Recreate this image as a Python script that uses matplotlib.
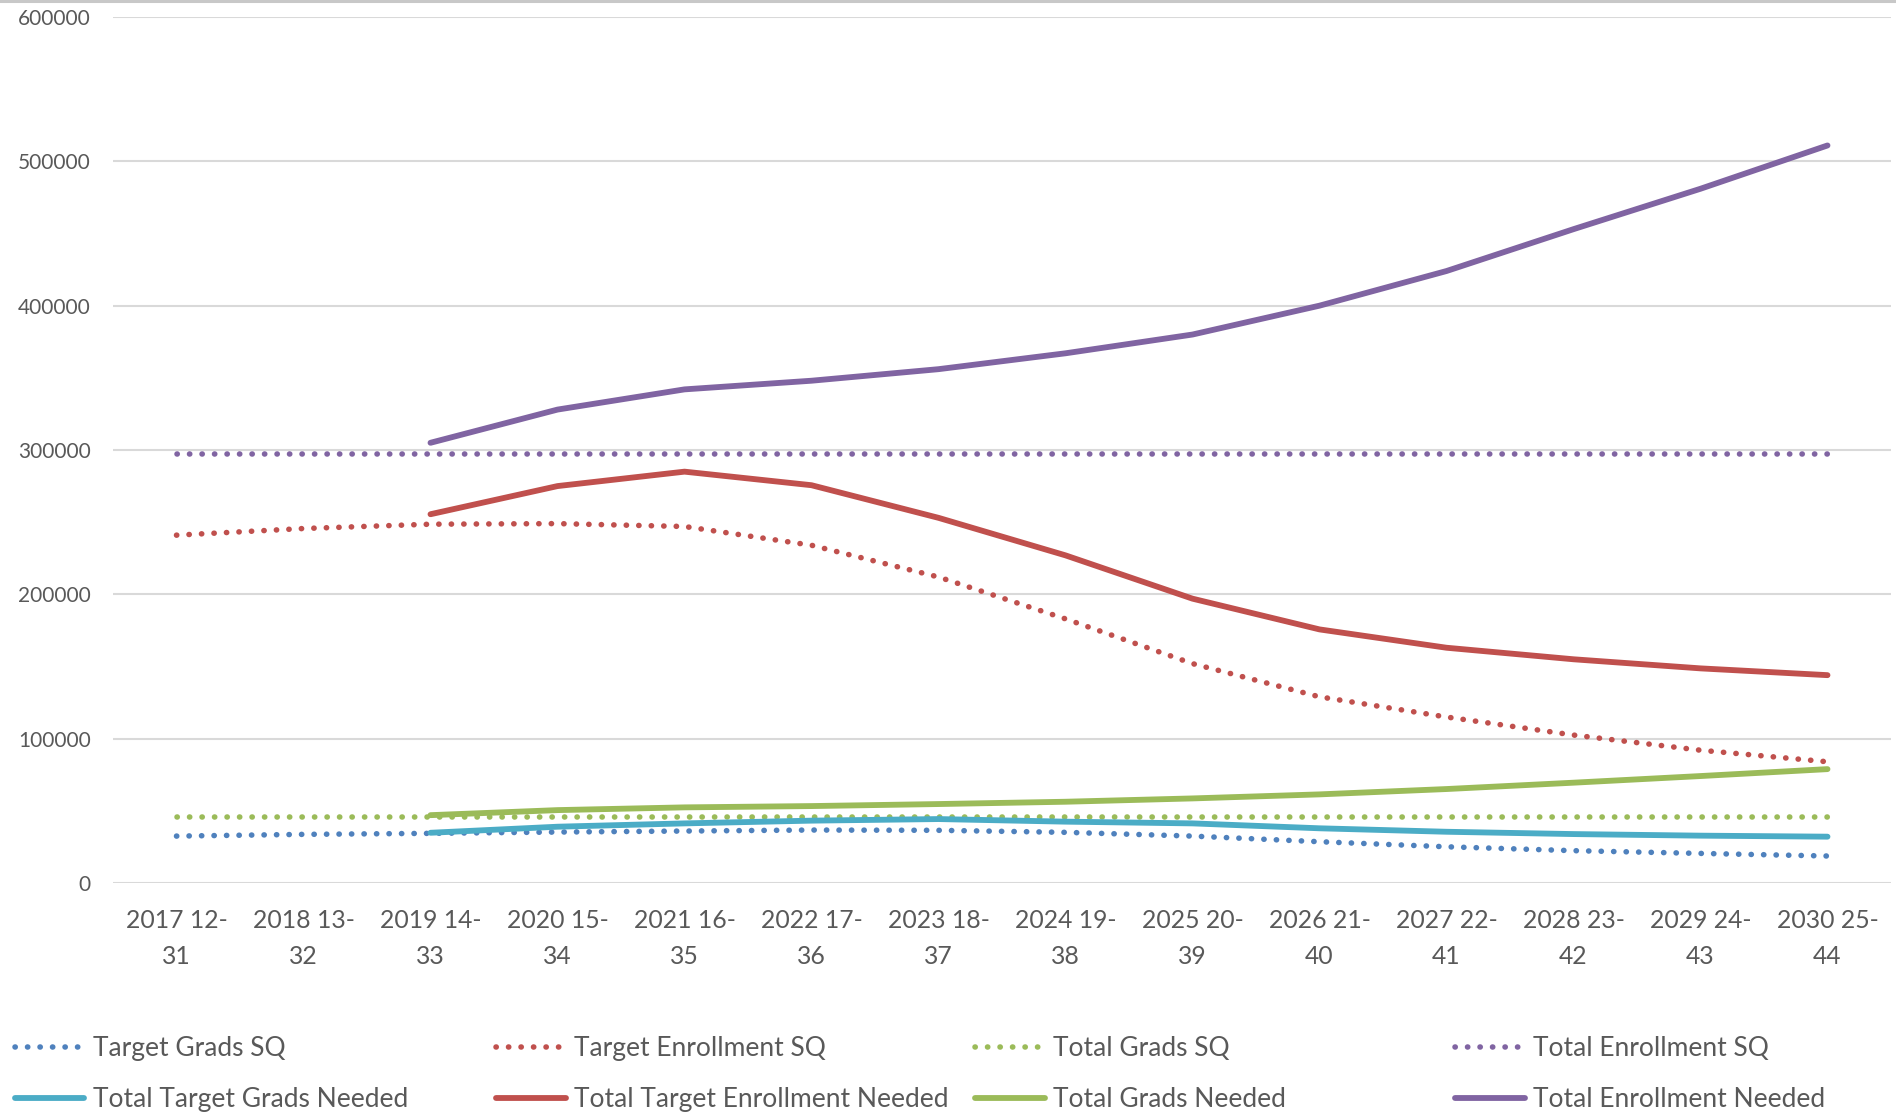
import numpy as np
import matplotlib
matplotlib.use("Agg")
import matplotlib.pyplot as plt
from matplotlib.lines import Line2D

plt.rcParams['font.family'] = ['Lato', 'DejaVu Sans']

categories = ["2017 12-\n31", "2018 13-\n32", "2019 14-\n33", "2020 15-\n34",
              "2021 16-\n35", "2022 17-\n36", "2023 18-\n37", "2024 19-\n38",
              "2025 20-\n39", "2026 21-\n40", "2027 22-\n41", "2028 23-\n42",
              "2029 24-\n43", "2030 25-\n44"]

nan = np.nan
target_grads_sq = [32500, 33700, 34400, 35300, 36000, 36700, 36500, 35100,
                   32500, 28600, 25100, 22400, 20500, 18700]
target_enroll_sq = [241000, 245600, 248600, 249000, 247000, 234000, 212000, 183000,
                    152000, 129000, 115000, 102500, 92000, 84000]
total_grads_sq = [46000] * 14
total_enroll_sq = [297000] * 14
total_target_grads_needed = [nan, nan, 34800, 39000, 41300, 43200, 44300, 42500,
                             41300, 37900, 35500, 33900, 32800, 32100]
total_target_enroll_needed = [nan, nan, 255500, 275000, 285000, 275600, 253000, 227000,
                              197000, 175700, 163000, 155000, 148700, 144000]
total_grads_needed = [nan, nan, 47000, 50500, 52400, 53300, 54700, 56300,
                      58600, 61400, 65100, 69500, 74100, 78900]
total_enroll_needed = [nan, nan, 305000, 328000, 342000, 348000, 356000, 367000,
                       380000, 400000, 424000, 453000, 481000, 511000]

series = [
    ("Target Grads SQ", target_grads_sq, "#4F81BD", "dot"),
    ("Target Enrollment SQ", target_enroll_sq, "#C0504D", "dot"),
    ("Total Grads SQ", total_grads_sq, "#9BBB59", "dot"),
    ("Total Enrollment SQ", total_enroll_sq, "#8064A2", "dot"),
    ("Total Target Grads Needed", total_target_grads_needed, "#4BACC6", "solid"),
    ("Total Target Enrollment Needed", total_target_enroll_needed, "#C0504D", "solid"),
    ("Total Grads Needed", total_grads_needed, "#9BBB59", "solid"),
    ("Total Enrollment Needed", total_enroll_needed, "#8064A2", "solid"),
]

W, H = 1896, 1117
fig = plt.figure(figsize=(W / 100, H / 100), dpi=100)
ax = fig.add_axes([113 / W, 1 - 883 / H, (1891 - 113) / W, (883 - 17) / H])

x = np.arange(len(categories))
handles = []
for label, vals, color, style in series:
    if style == "dot":
        kw = dict(lw=4.0, linestyle=(0, (0.05, 2.2)), dash_capstyle='round')
    else:
        kw = dict(lw=4.2, linestyle='-', solid_capstyle='round', solid_joinstyle='round')
    ln, = ax.plot(x, vals, color=color, label=label, **kw)
    handles.append(ln)

ax.set_xlim(-0.5, len(categories) - 0.5)
ax.set_ylim(0, 600000)
ax.set_yticks(np.arange(0, 600001, 100000))
ax.set_yticklabels([str(v) for v in range(0, 600001, 100000)])
ax.set_xticks(x)
ax.set_xticklabels(categories, linespacing=1.68)
ax.grid(axis='y', color='#D9D9D9', lw=1.5)
ax.set_axisbelow(True)
for s in ax.spines.values():
    s.set_visible(False)
ax.tick_params(axis='both', length=0, colors='#595959')
ax.tick_params(axis='y', pad=16, labelsize=15)
ax.tick_params(axis='x', pad=19, labelsize=17.8)

# top border of chart area
fig.add_artist(Line2D([0, 1], [1 - 1.2 / H, 1 - 1.2 / H], color='#C8C8C8', lw=2.2,
                      transform=fig.transFigure))

xs = [14.5 / W, 496 / W, 975 / W, 1455 / W]
for i in range(4):
    hs = [handles[i], handles[i + 4]]
    fig.legend(hs, [h.get_label() for h in hs], loc='center left',
               bbox_to_anchor=(xs[i], 1 - 1074 / H), ncol=1, frameon=False,
               fontsize=19, labelcolor='#595959', handlelength=2.65,
               handletextpad=0.32, labelspacing=0.98, borderpad=0, borderaxespad=0)

fig.savefig("out.png", dpi=100)
